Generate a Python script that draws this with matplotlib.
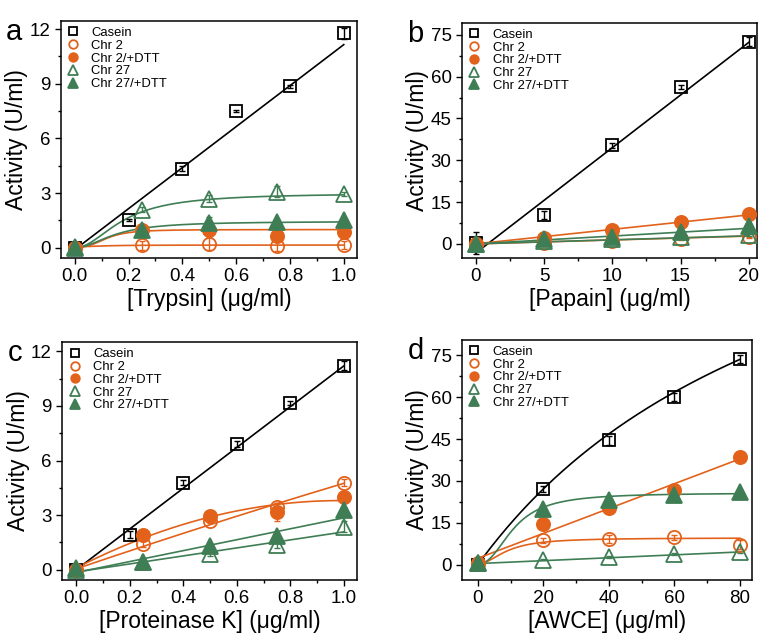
import numpy as np
import matplotlib
matplotlib.use("Agg")
from matplotlib import pyplot as plt
from matplotlib.ticker import MultipleLocator

plt.rcParams["font.family"] = ["Liberation Sans", "DejaVu Sans"]

ORANGE = "#e2621b"
GREEN = "#3f7e55"

labels = ["Casein", "Chr 2", "Chr 2/+DTT", "Chr 27", "Chr 27/+DTT"]

# panel a - trypsin
xa_cas = [0, 0.2, 0.4, 0.6, 0.8, 1.0]
ya_cas = [0.0, 1.52, 4.35, 7.49, 8.86, 11.78]
ea_cas = [0.05, 0.05, 0.15, 0.05, 0.08, 0.3]
xa = [0, 0.25, 0.5, 0.75, 1.0]
ya_chr2 = [0.0, 0.15, 0.22, 0.1, 0.15]
ea_chr2 = [0.05, 0.25, 0.35, 0.25, 0.2]
ya_chr2d = [0.0, 1.0, 0.97, 0.64, 0.88]
ea_chr2d = [0.05, 0.2, 0.1, 0.1, 0.1]
ya_chr27 = [0.0, 2.1, 2.7, 3.07, 2.96]
ea_chr27 = [0.1, 0.15, 0.2, 0.3, 0.1]
ya_chr27d = [0.05, 0.95, 1.37, 1.4, 1.55]
ea_chr27d = [0.1, 0.1, 0.3, 0.1, 0.1]

# panel b - papain
xb_cas = [0, 5, 10, 15, 20]
yb_cas = [0.2, 10.4, 35.3, 56.2, 72.6]
eb_cas = [4.0, 1.5, 0.8, 0.8, 1.5]
xb = [0, 5, 10, 15, 20]
yb_chr2 = [0.0, 0.2, 1.2, 1.7, 2.3]
eb_chr2 = [0.3, 0.3, 0.3, 0.3, 0.3]
yb_chr2d = [0.0, 2.2, 5.0, 7.7, 10.6]
eb_chr2d = [0.2, 0.2, 0.2, 0.2, 0.2]
yb_chr27 = [0.0, 1.2, 1.8, 2.3, 3.2]
eb_chr27 = [0.2, 0.2, 0.2, 0.2, 0.2]
yb_chr27d = [0.0, 1.7, 2.6, 4.3, 6.5]
eb_chr27d = [0.2, 0.2, 0.2, 0.2, 0.2]

# panel c - proteinase K
xc_cas = [0, 0.2, 0.4, 0.6, 0.8, 1.0]
yc_cas = [0.0, 1.92, 4.79, 6.9, 9.17, 11.2]
ec_cas = [0.05, 0.2, 0.15, 0.15, 0.1, 0.25]
xc = [0, 0.25, 0.5, 0.75, 1.0]
yc_chr2 = [0.0, 1.41, 2.7, 3.43, 4.79]
ec_chr2 = [0.05, 0.15, 0.15, 0.25, 0.2]
yc_chr2d = [0.0, 1.92, 2.96, 3.16, 3.98]
ec_chr2d = [0.05, 0.1, 0.1, 0.5, 0.2]
yc_chr27 = [0.0, 0.45, 0.88, 1.37, 2.37]
ec_chr27 = [0.05, 0.05, 0.15, 0.15, 0.3]
yc_chr27d = [0.1, 0.45, 1.28, 1.86, 3.29]
ec_chr27d = [0.05, 0.05, 0.1, 0.1, 0.1]

# panel d - AWCE
xd_cas = [0, 20, 40, 60, 80]
yd_cas = [0.0, 27.2, 44.5, 60.1, 73.7]
ed_cas = [0.5, 1.0, 1.5, 1.5, 1.5]
xd = [0, 20, 40, 60, 80]
yd_chr2 = [0.3, 8.7, 9.3, 9.8, 7.2]
ed_chr2 = [0.5, 0.8, 1.5, 0.8, 1.5]
yd_chr2d = [0.5, 14.7, 20.3, 26.6, 38.5]
ed_chr2d = [0.3, 0.3, 0.3, 0.3, 0.3]
yd_chr27 = [0.5, 1.8, 2.7, 3.8, 4.5]
ed_chr27 = [0.3, 0.3, 0.3, 0.3, 0.3]
yd_chr27d = [0.5, 19.9, 23.0, 25.1, 25.9]
ed_chr27d = [0.3, 0.3, 0.3, 0.3, 0.3]

# fitted curves: ("lin", y0, slope), ("hill", y0, vmax, k, n), ("quad", c0, c1, c2)
fits_a = [("lin", -0.1, 11.25), ("hill", 0.05, 0.1, 0.1, 2), ("hill", 0.05, 0.95, 0.12, 3),
          ("hill", 0.0, 3.0, 0.18, 2), ("hill", 0.0, 1.45, 0.15, 2)]
fits_b = [("lin", -3.3, 3.78), ("lin", 0.0, 0.14), ("lin", 0.0, 0.52),
          ("lin", 0.0, 0.145), ("lin", 0.0, 0.28)]
fits_c = [("lin", 0.0, 11.2), ("quad", 0.05, 5.0, -0.3), ("quad", 0.1, 7.5, -3.8),
          ("lin", -0.12, 2.2), ("lin", -0.15, 3.0)]
fits_d = [("hill", 0.0, 171, 106, 1), ("hill", 0.3, 9.3, 9, 2), ("lin", 2.3, 0.445),
          ("lin", 0.4, 0.052), ("hill", 0.3, 25.4, 11, 2.3)]


def fit_curve(spec, x):
    kind = spec[0]
    if kind == "lin":
        return spec[1] + spec[2] * x
    if kind == "quad":
        return spec[1] + spec[2] * x + spec[3] * x ** 2
    y0, vmax, k, n = spec[1:]
    return y0 + vmax * x ** n / (k ** n + x ** n)


styles = [
    dict(marker="s", color="black", mfc="none", ms=8.5),
    dict(marker="o", color=ORANGE, mfc="none", ms=9.5),
    dict(marker="o", color=ORANGE, mfc=ORANGE, ms=9.5),
    dict(marker="^", color=GREEN, mfc="none", ms=11),
    dict(marker="^", color=GREEN, mfc=GREEN, ms=11),
]

panels = [
    dict(pos=[0.080, 0.594, 0.390, 0.373], letter="a", xlabel="[Trypsin] (μg/ml)",
         xs=[xa_cas, xa, xa, xa, xa], ys=[ya_cas, ya_chr2, ya_chr2d, ya_chr27, ya_chr27d],
         es=[ea_cas, ea_chr2, ea_chr2d, ea_chr27, ea_chr27d], fits=fits_a,
         xlim=(-0.052, 1.05), ylim=(-0.55, 12.45), xmaj=0.2, ymaj=3, xfmt="%.1f"),
    dict(pos=[0.608, 0.594, 0.388, 0.370], letter="b", xlabel="[Papain] (μg/ml)",
         xs=[xb_cas, xb, xb, xb, xb], ys=[yb_cas, yb_chr2, yb_chr2d, yb_chr27, yb_chr27d],
         es=[eb_cas, eb_chr2, eb_chr2d, eb_chr27, eb_chr27d], fits=fits_b,
         xlim=(-1.0, 20.6), ylim=(-5.0, 79.3), xmaj=5, ymaj=15, xfmt="%d"),
    dict(pos=[0.082, 0.087, 0.388, 0.374], letter="c", xlabel="[Proteinase K] (μg/ml)",
         xs=[xc_cas, xc, xc, xc, xc], ys=[yc_cas, yc_chr2, yc_chr2d, yc_chr27, yc_chr27d],
         es=[ec_cas, ec_chr2, ec_chr2d, ec_chr27, ec_chr27d], fits=fits_c,
         xlim=(-0.052, 1.05), ylim=(-0.55, 12.5), xmaj=0.2, ymaj=3, xfmt="%.1f"),
    dict(pos=[0.608, 0.087, 0.381, 0.378], letter="d", xlabel="[AWCE] (μg/ml)",
         xs=[xd_cas, xd, xd, xd, xd], ys=[yd_cas, yd_chr2, yd_chr2d, yd_chr27, yd_chr27d],
         es=[ed_cas, ed_chr2, ed_chr2d, ed_chr27, ed_chr27d], fits=fits_d,
         xlim=(-4.8, 83.6), ylim=(-5.4, 80.6), xmaj=20, ymaj=15, xfmt="%d"),
]

fig = plt.figure(figsize=(7.6, 6.35), dpi=100)

for p in panels:
    ax = fig.add_axes(p["pos"])
    for i in range(5):
        x = np.array(p["xs"][i], dtype=float)
        st = styles[i]
        xx = np.linspace(x.min(), x.max(), 200)
        ax.plot(xx, fit_curve(p["fits"][i], xx), color=st["color"], lw=1.2, zorder=2)
        ax.errorbar(x, p["ys"][i], yerr=p["es"][i], fmt="none", ecolor=st["color"],
                    elinewidth=1.0, capsize=2, capthick=1.0, zorder=3)
        ax.plot(x, p["ys"][i], ls="none", marker=st["marker"], ms=st["ms"],
                mec=st["color"], mfc=st["mfc"], mew=1.3, label=labels[i], zorder=4)
    ax.set_xlim(p["xlim"])
    ax.set_ylim(p["ylim"])
    ax.xaxis.set_major_locator(MultipleLocator(p["xmaj"]))
    ax.xaxis.set_minor_locator(MultipleLocator(p["xmaj"] / 2))
    ax.yaxis.set_major_locator(MultipleLocator(p["ymaj"]))
    ax.yaxis.set_minor_locator(MultipleLocator(p["ymaj"] / 2))
    ax.xaxis.set_major_formatter(plt.FormatStrFormatter(p["xfmt"]))
    ax.tick_params(which="major", direction="out", length=4, width=1, labelsize=13.5)
    ax.tick_params(which="minor", direction="out", length=2.5, width=1)
    for s in ax.spines.values():
        s.set_linewidth(1.1)
    ax.set_xlabel(p["xlabel"], fontsize=16.5, labelpad=2)
    ax.set_ylabel("Activity (U/ml)", fontsize=16.5, labelpad=1)
    ax.legend(loc="upper left", frameon=False, fontsize=9.4, markerscale=0.65,
              handlelength=1.0, handletextpad=0.9, labelspacing=0.05,
              borderaxespad=0.25, borderpad=0.2)
    x0, y0, w, h = p["pos"]
    fig.text(x0 - 0.072, y0 + h + 0.005, p["letter"], fontsize=21, va="top", ha="left")

plt.savefig("out.png", dpi=100)
